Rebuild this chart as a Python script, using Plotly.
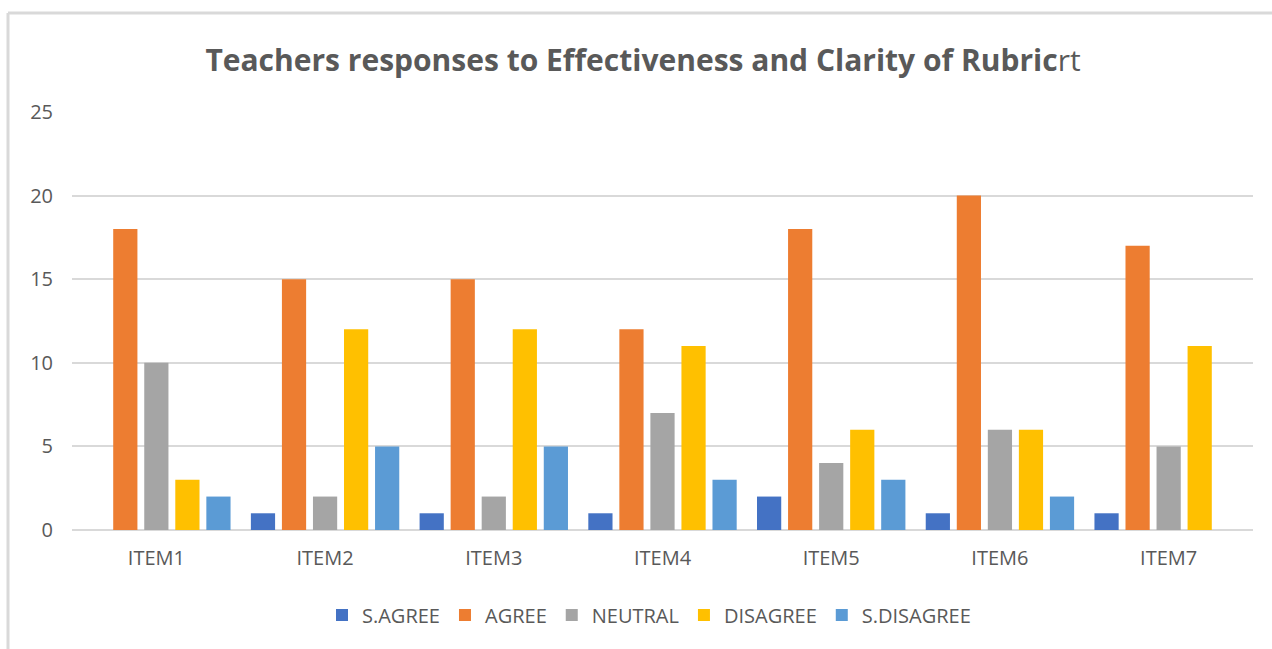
import plotly.graph_objects as go

# Survey items and response counts per category
items = ["ITEM1", "ITEM2", "ITEM3", "ITEM4", "ITEM5", "ITEM6", "ITEM7"]
s_agree = [0, 1, 1, 1, 2, 1, 1]
agree = [18, 15, 15, 12, 18, 20, 17]
neutral = [10, 2, 2, 7, 4, 6, 5]
disagree = [3, 12, 12, 11, 6, 6, 11]
s_disagree = [2, 5, 5, 3, 3, 2, 0]

series_names = ["S.AGREE", "AGREE", "NEUTRAL", "DISAGREE", "S.DISAGREE"]
series_values = [s_agree, agree, neutral, disagree, s_disagree]
series_colors = ["#4472C4", "#ED7D31", "#A5A5A5", "#FFC000", "#5B9BD5"]

W, H = 1272, 649
L, R, T, B = 72, 19, 112, 119
plot_w = W - L - R
plot_h = H - T - B

fig = go.Figure()
for name, vals, col in zip(series_names, series_values, series_colors):
    fig.add_trace(go.Bar(x=items, y=vals, name=name, marker=dict(color=col, line=dict(width=0))))

text_color = "#595959"
font_fam = "Open Sans, Liberation Sans, sans-serif"

def px_x(px):
    return (px - L) / plot_w

def px_y(py):
    return (H - B - py) / plot_h

fig.update_layout(
    width=W,
    height=H,
    margin=dict(l=L, r=R, t=T, b=B),
    paper_bgcolor="white",
    plot_bgcolor="white",
    barmode="group",
    bargap=0.08,
    bargroupgap=0.22,
    font=dict(family=font_fam, color=text_color, size=20),
    title=dict(
        text="<b>Teachers responses to Effectiveness and Clarity of Rubric</b>rt",
        x=px_x(643), xref="paper", xanchor="center",
        y=1 - 60 / H, yref="container", yanchor="middle",
        font=dict(family=font_fam, size=30, color=text_color),
    ),
    xaxis=dict(
        showgrid=False,
        showline=False,
        ticks="",
        tickfont=dict(size=20, color=text_color),
        ticklabelstandoff=14,
    ),
    yaxis=dict(
        range=[0, 25],
        dtick=5,
        showgrid=True,
        gridcolor="#D9D9D9",
        gridwidth=2,
        zeroline=True,
        zerolinecolor="#D9D9D9",
        zerolinewidth=2,
        showline=False,
        ticks="",
        tickfont=dict(size=20, color=text_color),
        ticklabelstandoff=18,
    ),
    legend=dict(
        orientation="h",
        x=px_x(649), xanchor="center",
        y=px_y(615), yanchor="middle",
        font=dict(size=20, color=text_color),
        itemwidth=30,
        traceorder="normal",
    ),
    shapes=[
        dict(type="line", xref="paper", yref="paper",
             x0=px_x(8), x1=px_x(W + 5), y0=px_y(13), y1=px_y(13),
             line=dict(color="#D9D9D9", width=3)),
        dict(type="line", xref="paper", yref="paper",
             x0=px_x(8), x1=px_x(8), y0=px_y(13), y1=px_y(H + 5),
             line=dict(color="#D9D9D9", width=3)),
    ],
)

fig.write_html("out.html")
